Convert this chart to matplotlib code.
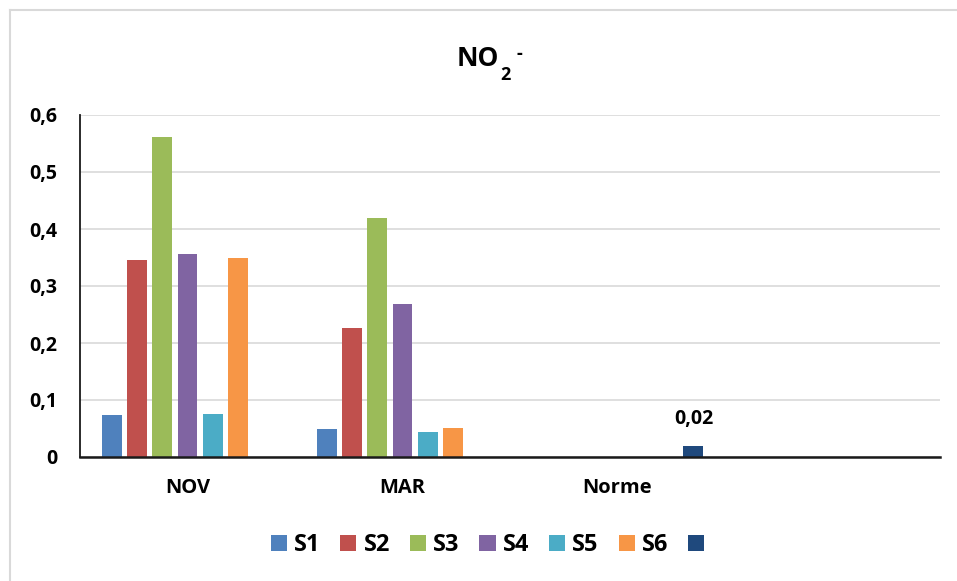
import numpy as np
import matplotlib
matplotlib.use("Agg")
import matplotlib.pyplot as plt
from matplotlib.patches import Patch
from matplotlib.lines import Line2D

# NO2- concentrations per station and campaign
categories = ["NOV", "MAR", "Norme", ""]
series = ["S1", "S2", "S3", "S4", "S5", "S6", ""]
colors = ["#4F81BD", "#C0504D", "#9BBB59", "#8064A2", "#4BACC6", "#F79646", "#1F497D"]

s1 = [0.073, 0.050, np.nan, np.nan]
s2 = [0.346, 0.226, np.nan, np.nan]
s3 = [0.561, 0.420, np.nan, np.nan]
s4 = [0.357, 0.268, np.nan, np.nan]
s5 = [0.075, 0.044, np.nan, np.nan]
s6 = [0.350, 0.051, np.nan, np.nan]
norme = [np.nan, np.nan, 0.02, np.nan]
values = [s1, s2, s3, s4, s5, s6, norme]

plt.rcParams['font.family'] = ['Open Sans', 'DejaVu Sans']
plt.rcParams['font.weight'] = 'bold'

W, H = 957, 581
fig = plt.figure(figsize=(W / 100, H / 100), dpi=100)
ax = fig.add_axes([80 / W, 1 - 457 / H, 860 / W, (457 - 115) / H])

x = np.arange(len(categories))
pitch = 0.1177
width = 0.093
for i, (vals, col) in enumerate(zip(values, colors)):
    ax.bar(x + (i - 3) * pitch, vals, width, color=col, zorder=3)

# label on the norm bar
nx = x[2] + 3 * pitch
ax.annotate("0,02", xy=(nx, norme[2]), xytext=(0, 15.5), textcoords='offset points',
            ha='center', va='baseline', fontsize=14, fontweight='bold')

ax.set_xlim(-0.5, 3.5)
ax.set_ylim(0, 0.6)
yt = np.arange(0, 0.61, 0.1)
ax.set_yticks(yt)
ax.set_yticklabels(["0" if v == 0 else f"{v:.1f}".replace(".", ",") for v in yt])
ax.set_xticks(x)
ax.set_xticklabels(categories)
ax.tick_params(axis='y', length=0, pad=16.5, labelsize=14)
ax.tick_params(axis='x', length=0, pad=15, labelsize=14.5)
for lbl in ax.get_xticklabels() + ax.get_yticklabels():
    lbl.set_fontweight('bold')

ax.grid(axis='y', color='#D9D9D9', linewidth=1.2, zorder=0)
for side in ['top', 'right']:
    ax.spines[side].set_visible(False)
ax.spines['left'].set_linewidth(1.3)
ax.spines['left'].set_color('#1a1a1a')
ax.spines['bottom'].set_linewidth(1.8)
ax.spines['bottom'].set_color('#1a1a1a')
ax.spines['bottom'].set_zorder(4)

# title NO2-, pieces placed one after another
t_no = fig.text(457 / W, 1 - 66.5 / H, "NO", fontsize=19, fontweight='bold', ha='left', va='baseline')
fig.canvas.draw()
bb = t_no.get_window_extent()
fig.text((bb.x1 + 0.5) / W, 1 - 80 / H, "2", fontsize=13, fontweight='bold', ha='left', va='baseline')
fig.text((bb.x1 + 17) / W, 1 - 54 / H, "-", fontsize=13, fontweight='bold', ha='left', va='center')

# legend
handles = [Patch(facecolor=c, edgecolor='none') for c in colors]
fig.legend(handles, series, loc='center', bbox_to_anchor=(491 / W, 1 - 545 / H),
           ncol=7, frameon=False, handlelength=0.68, handleheight=0.68,
           handletextpad=0.3, columnspacing=0.85, prop={'weight': 'bold', 'size': 17})

# chart area border (top and left edges)
fig.add_artist(Line2D([10 / W, 1], [1 - 10 / H, 1 - 10 / H], color='#D9D9D9', linewidth=1.5))
fig.add_artist(Line2D([10 / W, 10 / W], [0, 1 - 10 / H], color='#D9D9D9', linewidth=1.5))

fig.savefig("out.png", dpi=100)
